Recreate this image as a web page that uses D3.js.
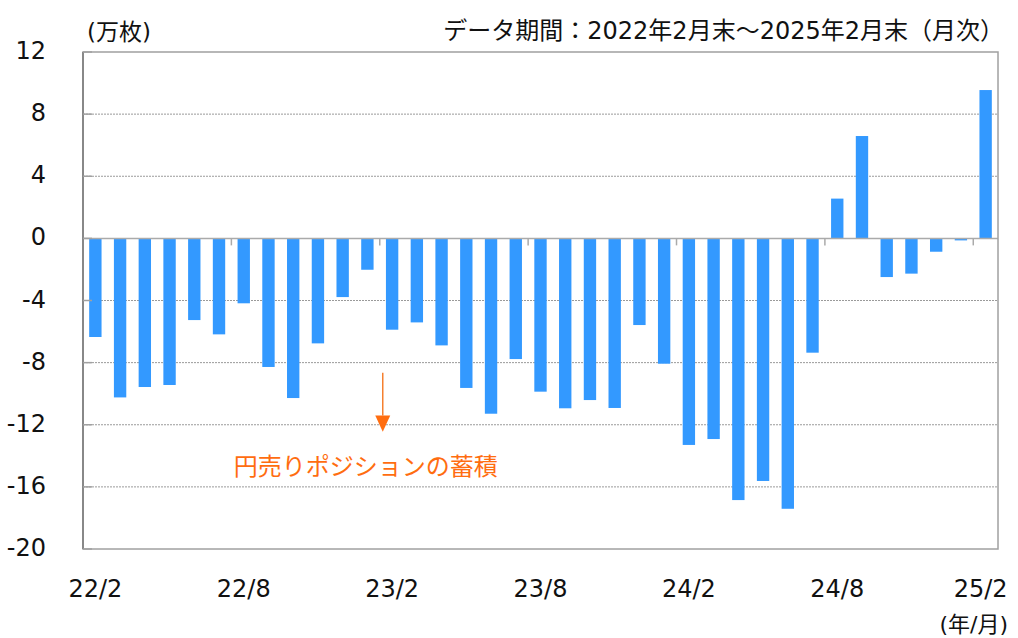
<!DOCTYPE html>
<html>
<head>
<meta charset="utf-8">
<script src="https://cdn.jsdelivr.net/npm/d3@7"></script>
<style>
  body { margin: 0; background: #fff; }
  svg { display: block; font-family: "DejaVu Sans", "Noto Sans CJK JP", sans-serif; }
</style>
</head>
<body>
<svg></svg>
<script>
const WIDTH = 1018;
const HEIGHT = 638;
const MARGIN = { top: 52, right: 20, bottom: 89, left: 83 };

// months 22/2 .. 25/2
const months = [
    "22/2", "22/3", "22/4", "22/5", "22/6", "22/7", "22/8", "22/9", "22/10", "22/11", "22/12",
    "23/1", "23/2", "23/3", "23/4", "23/5", "23/6", "23/7", "23/8", "23/9", "23/10", "23/11", "23/12",
    "24/1", "24/2", "24/3", "24/4", "24/5", "24/6", "24/7", "24/8", "24/9", "24/10", "24/11", "24/12",
    "25/1", "25/2"
];
// net position, 万枚
const values = [
    -6.35, -10.24, -9.57, -9.44, -5.26, -6.18, -4.18, -8.28, -10.28, -6.76, -3.78,
    -2.02, -5.88, -5.41, -6.89, -9.63, -11.29, -7.77, -9.87, -10.94, -10.41, -10.92, -5.58,
    -8.07, -13.30, -12.92, -16.85, -15.62, -17.41, -7.36, 2.56, 6.59, -2.49, -2.27, -0.86,
    -0.13, 9.55
];
const xTickLabels = ["22/2", "22/8", "23/2", "23/8", "24/2", "24/8", "25/2"];
const yTicks = [12, 8, 4, 0, -4, -8, -12, -16, -20];

const innerW = WIDTH - MARGIN.left - MARGIN.right;
const innerH = HEIGHT - MARGIN.top - MARGIN.bottom;

let svg = d3.select("svg")
    .attr("width", WIDTH)
    .attr("height", HEIGHT);

let x = d3.scaleBand()
    .domain(months)
    .range([MARGIN.left, MARGIN.left + innerW])
    .paddingInner(0.5)
    .paddingOuter(0.25);

let y = d3.scaleLinear()
    .domain([-20, 12])
    .range([MARGIN.top + innerH, MARGIN.top]);

const step = x.step();
const bandStart = (m) => x(m) - step * 0.25;

// dashed grid
svg.append("g")
    .selectAll("line")
    .data(yTicks.filter(d => d !== 0 && d !== 12 && d !== -20))
    .join("line")
    .attr("x1", MARGIN.left)
    .attr("x2", MARGIN.left + innerW)
    .attr("y1", d => y(d))
    .attr("y2", d => y(d))
    .style("stroke", "#9a9a9a")
    .style("stroke-width", 1)
    .style("stroke-dasharray", "2,1");

// bars
svg.append("g")
    .selectAll("rect")
    .data(values)
    .join("rect")
    .attr("x", (d, i) => x(months[i]))
    .attr("width", x.bandwidth())
    .attr("y", d => y(Math.max(0, d)))
    .attr("height", d => Math.abs(y(d) - y(0)))
    .style("fill", "#3399ff");

// zero line + month ticks
svg.append("line")
    .attr("x1", MARGIN.left)
    .attr("x2", MARGIN.left + innerW)
    .attr("y1", y(0))
    .attr("y2", y(0))
    .style("stroke", "#aaaaaa")
    .style("stroke-width", 1.5);

svg.append("g")
    .selectAll("line")
    .data(xTickLabels.slice(1))
    .join("line")
    .attr("x1", d => bandStart(d))
    .attr("x2", d => bandStart(d))
    .attr("y1", y(0))
    .attr("y2", y(0) + 7)
    .style("stroke", "#aaaaaa")
    .style("stroke-width", 1.5);

// frame
svg.append("rect")
    .attr("x", MARGIN.left)
    .attr("y", MARGIN.top)
    .attr("width", innerW)
    .attr("height", innerH)
    .style("fill", "none")
    .style("stroke", "#a0a0a0")
    .style("stroke-width", 1.5);

svg.append("line")
    .attr("x1", MARGIN.left)
    .attr("x2", MARGIN.left)
    .attr("y1", MARGIN.top)
    .attr("y2", MARGIN.top + innerH)
    .style("stroke", "#888888")
    .style("stroke-width", 2);

// y ticks (short marks on left axis)
svg.append("g")
    .selectAll("line")
    .data(yTicks)
    .join("line")
    .attr("x1", MARGIN.left)
    .attr("x2", MARGIN.left + 9)
    .attr("y1", d => y(d))
    .attr("y2", d => y(d))
    .style("stroke", "#a0a0a0")
    .style("stroke-width", 1.5);

// y labels
svg.append("g")
    .selectAll("text")
    .data(yTicks)
    .join("text")
    .attr("x", 46)
    .attr("y", d => y(d) - 1)
    .attr("text-anchor", "end")
    .attr("dominant-baseline", "central")
    .style("font-size", "24px")
    .style("fill", "#111")
    .text(d => d);

// x labels
svg.append("g")
    .selectAll("text")
    .data(xTickLabels)
    .join("text")
    .attr("x", (d, i) => x(d) + x.bandwidth() / 2 - (i === xTickLabels.length - 1 ? 5 : 0))
    .attr("y", 597)
    .attr("text-anchor", "middle")
    .style("font-size", "24px")
    .style("fill", "#111")
    .text(d => d);

svg.append("text")
    .attr("x", 87)
    .attr("y", 40)
    .style("font-size", "23px")
    .style("fill", "#111")
    .text("(万枚)");

svg.append("text")
    .attr("x", 1004)
    .attr("y", 39)
    .attr("text-anchor", "end")
    .style("font-size", "24px")
    .style("fill", "#111")
    .text("データ期間：2022年2月末～2025年2月末（月次）");

svg.append("text")
    .attr("x", 1008)
    .attr("y", 632)
    .attr("text-anchor", "end")
    .style("font-size", "22px")
    .style("fill", "#111")
    .text("(年/月)");

// annotation
const ORANGE = "#ff6d10";
const ax = bandStart("23/2") + 3;
svg.append("line")
    .attr("x1", ax)
    .attr("x2", ax)
    .attr("y1", y(-8.65))
    .attr("y2", y(-11.4))
    .style("stroke", "#f58030")
    .style("stroke-width", 1.5);

svg.append("path")
    .attr("d", `M${ax - 7.5},${y(-11.4)} L${ax + 7.5},${y(-11.4)} L${ax},${y(-12.45)} Z`)
    .style("fill", ORANGE);

svg.append("text")
    .attr("x", ax - 17)
    .attr("y", y(-14.75))
    .attr("text-anchor", "middle")
    .attr("dominant-baseline", "central")
    .style("font-size", "24px")
    .style("fill", ORANGE)
    .text("円売りポジションの蓄積");
</script>
</body>
</html>
